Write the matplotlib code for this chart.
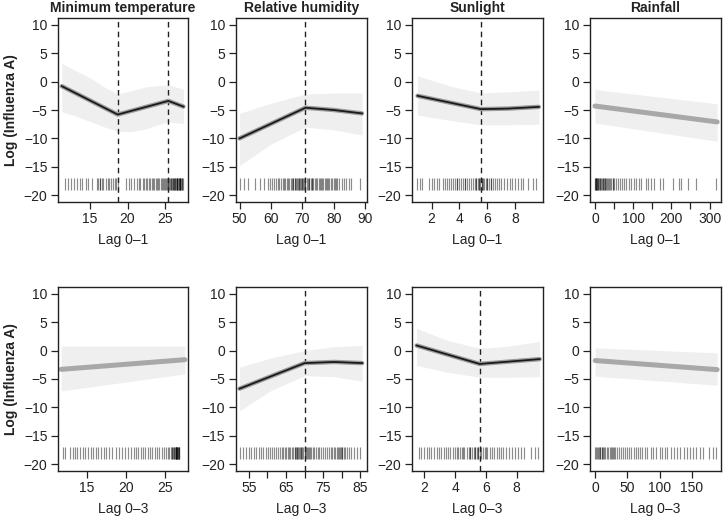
import numpy as np
import matplotlib.pyplot as plt

plt.rcParams['font.family'] = ['Liberation Sans', 'DejaVu Sans']

titles = ['Minimum temperature', 'Relative humidity', 'Sunlight', 'Rainfall']
xlabels = ['Lag 0\u20131', 'Lag 0\u20133']

# fitted threshold curves (x, y) per panel, row-major
fit_x = [
    [11.3, 18.7, 25.4, 27.4], [50.0, 71.0, 80.0, 89.0], [1.0, 5.55, 7.5, 9.7], [0, 320],
    [11.7, 27.6], [52.5, 70.0, 78.0, 85.5], [1.5, 5.6, 9.5], [0, 189],
]
fit_y = [
    [-0.8, -5.8, -3.4, -4.4], [-10.0, -4.6, -5.0, -5.6], [-2.5, -4.85, -4.75, -4.45], [-4.3, -7.1],
    [-3.3, -1.6], [-6.7, -2.2, -2.0, -2.2], [0.9, -2.35, -1.5], [-1.75, -3.35],
]
# confidence bands
band_x = [
    [11.3, 13, 15, 17, 18.7, 20.5, 22.5, 24, 25.4, 27.4], [50, 60, 71, 80, 89], [1.0, 3.5, 5.55, 7.5, 9.7], [0, 320],
    [11.7, 27.6], [52.5, 61, 70, 78, 85.5], [1.5, 3.5, 5.6, 7.5, 9.5], [0, 189],
]
band_hi = [
    [3.2, 2.0, 0.7, -1.0, -2.2, -1.6, -0.9, -0.7, -0.6, -1.3], [-5.6, -3.8, -2.2, -2.0, -2.0], [1.0, -0.9, -2.0, -1.8, -1.5], [-1.4, -3.9],
    [0.8, 0.8], [-2.9, -1.3, 0.0, 0.7, 0.9], [3.9, 1.8, 0.4, 0.8, 1.6], [0.5, -0.4],
]
band_lo = [
    [-5.3, -6.0, -7.0, -8.0, -8.8, -8.8, -8.3, -7.6, -7.1, -7.4], [-14.8, -11.0, -8.0, -8.5, -9.4], [-5.9, -6.9, -7.6, -7.6, -7.5], [-7.3, -10.5],
    [-7.1, -4.1], [-10.6, -7.0, -4.4, -4.6, -5.4], [-2.6, -3.8, -4.7, -4.7, -4.6], [-4.5, -6.1],
]
significant = [True, True, True, False, False, True, True, False]
thresholds = [[18.7, 25.4], [71.0], [5.55], [], [], [70.0], [5.6], []]

# observed exposure values (rug)
rug = [
    [11.7, 12.1, 12.5, 12.9, 13.3, 13.7, 14.0, 14.5, 14.8, 15.3, 15.9, 16.1, 16.3, 16.4, 16.6, 16.8,
     17.1, 17.4, 17.6, 17.8, 18.1, 18.3, 18.5, 18.7, 19.8, 20.2, 20.5, 20.9, 21.2, 21.5, 21.7, 22.0,
     22.2, 22.4, 22.6, 22.8, 23.0, 23.2, 23.4, 23.5, 23.7, 23.9, 24.0, 24.2, 24.4, 24.5, 24.7, 24.8,
     25.0, 25.1, 25.2, 25.3, 25.4, 25.5, 25.6, 25.7, 25.8, 25.9, 26.0, 26.1, 26.2, 26.3, 26.4, 26.5,
     26.6, 26.7, 26.8, 26.9, 27.0, 27.1, 27.2, 27.3, 26.0, 26.3, 26.5, 26.8, 27.0, 27.2, 26.6, 26.9],
    [50.0, 51.4, 52.8, 54.9, 56.4, 57.8, 58.9, 59.6, 60.3, 61.0, 61.6, 62.1, 62.7, 63.2, 63.7, 64.2,
     64.6, 65.0, 65.5, 65.9, 66.3, 66.7, 67.1, 67.5, 67.8, 68.2, 68.6, 68.9, 69.2, 69.6, 69.9, 70.3,
     70.7, 71.0, 71.4, 71.8, 72.2, 72.6, 73.0, 73.5, 73.9, 74.4, 74.8, 75.3, 75.7, 76.2, 76.6, 77.1,
     77.5, 78.0, 78.5, 79.0, 79.5, 80.0, 80.6, 81.2, 81.8, 82.5, 83.2, 84.0, 84.8, 85.6, 88.4,
     67.0, 68.0, 69.0, 69.8, 70.5, 72.0, 73.2, 76.0, 78.2, 80.3],
    [0.98, 1.14, 1.33, 1.8, 2.05, 2.2, 2.4, 2.55, 2.8, 2.95, 3.1, 3.25, 3.4, 3.55, 3.7, 3.8, 3.95,
     4.1, 4.25, 4.4, 4.55, 4.7, 4.85, 5.0, 5.1, 5.2, 5.3, 5.4, 5.5, 5.6, 5.7, 5.8, 5.9, 6.0, 6.1,
     6.25, 6.4, 6.55, 6.7, 6.85, 7.0, 7.2, 7.4, 7.6, 7.8, 8.0, 8.2, 8.4, 8.55, 8.9, 9.3, 9.5,
     3.8, 4.4, 5.2, 5.4, 5.6, 6.0, 6.3],
    [0, 2, 4, 6, 8, 10, 12, 15, 18, 21, 24, 27, 30, 34, 38, 42, 46, 50, 55, 60, 65, 70, 76, 82, 88,
     95, 102, 108, 115, 120, 133, 140, 148, 155, 170, 178, 204, 219, 225, 243, 265, 318,
     1, 3, 5, 9, 13, 20, 25, 32, 40, 48],
    [11.9, 12.2, 12.9, 13.2, 13.5, 13.8, 14.1, 14.5, 14.8, 15.1, 15.5, 15.8, 16.2, 16.5, 16.8, 17.2,
     17.5, 17.9, 18.3, 18.7, 19.1, 19.5, 19.9, 20.3, 20.7, 21.0, 21.3, 21.6, 21.9, 22.2, 22.5, 22.8,
     23.1, 23.4, 23.7, 24.0, 24.3, 24.6, 24.9, 25.2, 25.4, 25.6, 25.8, 26.0, 26.1, 26.2, 26.3, 26.4,
     26.5, 26.6, 26.7, 26.8, 26.9, 26.0, 26.2, 26.4, 26.5, 26.6, 26.7, 26.8, 26.4, 26.6],
    [52.5, 53.3, 54.1, 54.9, 55.6, 56.3, 57.0, 57.7, 58.3, 58.9, 59.5, 60.1, 60.7, 61.3, 61.8, 62.3,
     62.8, 63.3, 63.8, 64.2, 64.6, 65.0, 65.4, 65.8, 66.2, 66.6, 67.0, 67.3, 67.6, 67.9, 68.2, 68.5,
     68.8, 69.1, 69.4, 69.7, 70.0, 70.3, 70.6, 71.0, 71.4, 71.8, 72.2, 72.6, 73.0, 73.5, 74.0, 74.5,
     75.0, 75.5, 76.0, 76.5, 77.0, 77.4, 77.8, 78.2, 78.6, 79.0, 79.4, 79.8, 80.2, 80.6, 81.0, 81.5,
     82.0, 82.6, 83.3, 84.1, 85.0, 67.5, 68.0, 69.0, 70.2, 71.2, 79.2, 80.0],
    [1.63, 1.8, 1.95, 2.15, 2.3, 2.45, 2.6, 2.8, 2.95, 3.1, 3.25, 3.4, 3.55, 3.7, 3.85, 4.0, 4.1,
     4.2, 4.3, 4.45, 4.6, 4.75, 4.9, 5.0, 5.1, 5.2, 5.3, 5.4, 5.5, 5.6, 5.7, 5.8, 5.95, 6.1, 6.25,
     6.4, 6.55, 6.7, 6.85, 7.0, 7.15, 7.3, 7.5, 7.7, 7.9, 8.1, 8.3, 8.5, 8.96, 9.2, 9.4,
     4.5, 5.0, 5.3, 5.5, 6.0],
    [0, 2, 4, 6, 8, 10, 12, 14, 16, 18, 20, 23, 26, 28, 31, 34, 37, 40, 43, 46, 50, 53, 56, 60, 63,
     66, 70, 73, 77, 80, 86, 90, 95, 100, 104, 108, 112, 117, 122, 127, 132, 137, 142, 147, 152, 157,
     162, 167, 177, 182, 188, 3, 7, 11, 24, 29],
]

xlims = [(10.8, 28.0), (48.7, 90.6), (0.6, 10.0), (-13, 330),
         (11.3, 28.0), (51.4, 86.8), (1.2, 9.72), (-8, 195)]
xticks = [[15, 20, 25], [50, 60, 70, 80, 90], [2, 4, 6, 8], [0, 50, 100, 150, 200, 250, 300],
          [15, 20, 25], [55, 60, 65, 70, 75, 80, 85], [2, 4, 6, 8], [0, 50, 100, 150]]
xticklabels = [None, None, None, ['0', '', '100', '', '200', '', '300'],
               None, ['55', '', '65', '', '75', '', '85'], None, None]

fig = plt.figure(figsize=(7.23, 5.21), dpi=100)
W, H = 723.0, 521.0
lefts = [58, 235.5, 412, 590]
widths = [130, 131.5, 131, 131]
tops = [18, 287]
ph = 184

ink = '#222222'
for i in range(8):
    r, c = divmod(i, 4)
    ax = fig.add_axes([lefts[c] / W, 1 - (tops[r] + ph) / H, widths[c] / W, ph / H])
    ax.fill_between(band_x[i], band_lo[i], band_hi[i], color='#efefef', lw=0)
    ax.vlines(rug[i], -19.1, -16.9, color='black', alpha=0.45, lw=0.85)
    for t in thresholds[i]:
        ax.axvline(t, color=ink, ls=(0, (4, 3)), lw=1.0)
    if significant[i]:
        ax.plot(fit_x[i], fit_y[i], color='#9c9c9c', lw=3.2, solid_capstyle='round')
        ax.plot(fit_x[i], fit_y[i], color='#1a1a1a', lw=1.3)
    else:
        ax.plot(fit_x[i], fit_y[i], color='#a8a8a8', lw=3.6, solid_capstyle='round')

    ax.set_xlim(*xlims[i])
    ax.set_ylim(-21.2, 11.2)
    ax.set_yticks([-20, -15, -10, -5, 0, 5, 10])
    ax.set_xticks(xticks[i])
    if xticklabels[i] is not None:
        ax.set_xticklabels(xticklabels[i])
    for s in ax.spines.values():
        s.set_color(ink)
        s.set_linewidth(1.0)
    ax.tick_params(direction='out', length=5, width=0.9, color=ink, labelcolor=ink,
                   labelsize=10, pad=2.5)
    ax.set_xlabel(xlabels[r], fontsize=10, color=ink, labelpad=5)
    if r == 0:
        ax.set_title(titles[c], fontsize=10, fontweight='bold', color=ink, pad=4)
    if c == 0:
        ax.set_ylabel('Log (Influenza A)', fontsize=10, fontweight='bold', color=ink, labelpad=4)

fig.savefig('out.png', dpi=100)
